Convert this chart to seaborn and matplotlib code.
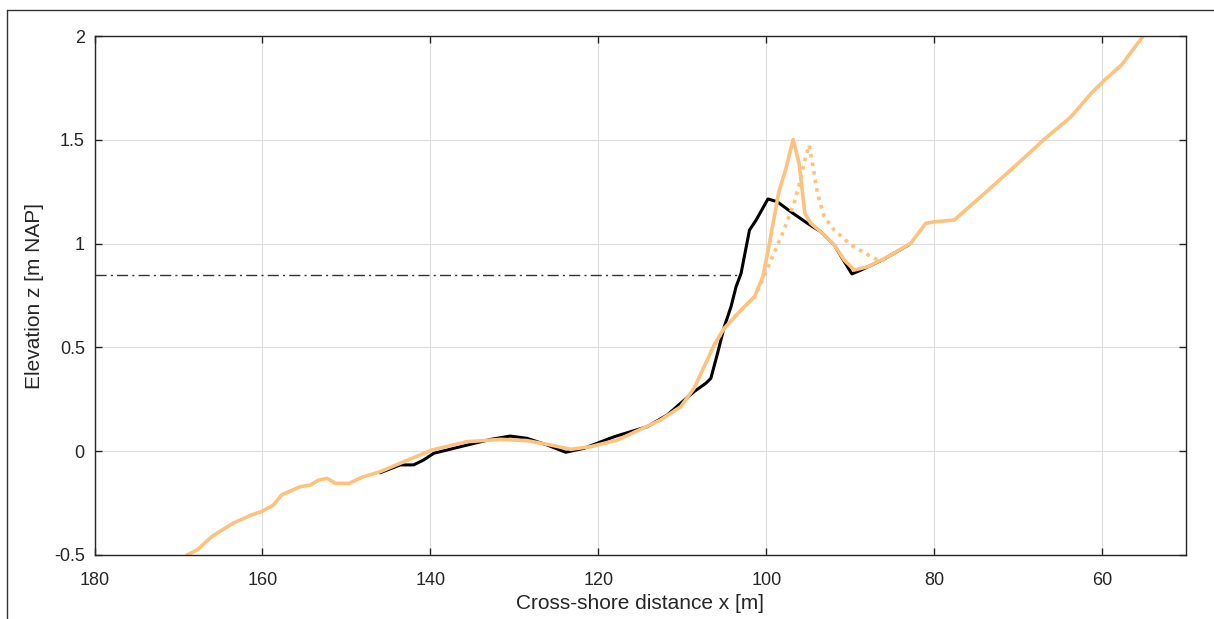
import matplotlib
matplotlib.use("Agg")
import matplotlib.pyplot as plt
from matplotlib.lines import Line2D
import seaborn as sns
import pandas as pd

# Measured profile (black)
measured_x = [146.0, 143.6, 142.0, 140.8, 139.6, 135.6, 132.8, 130.5, 128.5, 126.1,
              123.9, 121.7, 118.1, 114.2, 111.8, 110.2, 108.6, 107.2, 106.6, 105.8,
              105.0, 104.2, 103.6, 103.0, 102.0, 101.2, 99.8, 98.7, 97.1, 95.1,
              93.5, 91.9, 90.7, 89.8, 88.7, 86.0, 83.0]
measured_z = [-0.104, -0.066, -0.066, -0.042, -0.010, 0.030, 0.057, 0.073, 0.062, 0.030,
              -0.005, 0.014, 0.070, 0.118, 0.174, 0.231, 0.287, 0.327, 0.351, 0.472,
              0.600, 0.696, 0.792, 0.857, 1.065, 1.114, 1.215, 1.202, 1.154, 1.098,
              1.057, 0.993, 0.913, 0.854, 0.873, 0.925, 0.995]

# Modelled profile (solid orange)
model_x = [169.0, 167.8, 166.0, 163.5, 161.3, 160.1, 158.7, 157.7, 155.5, 154.3,
           153.3, 152.3, 151.3, 149.7, 148.0, 146.0, 143.6, 139.8, 135.6, 131.6,
           128.5, 125.7, 123.3, 120.9, 117.7, 112.6, 110.2, 108.6, 107.4, 106.2,
           105.0, 103.0, 101.4, 100.4, 99.7, 98.5, 97.7, 96.8, 96.1, 95.4,
           94.7, 93.5, 91.9, 90.7, 89.5, 87.9, 85.5, 82.8, 81.0, 80.0,
           77.6, 74.0, 70.0, 66.9, 63.7, 61.3, 59.7, 57.7, 55.1]
model_z = [-0.500, -0.476, -0.410, -0.347, -0.307, -0.291, -0.259, -0.210, -0.171, -0.163,
           -0.139, -0.131, -0.155, -0.155, -0.123, -0.099, -0.058, 0.006, 0.046, 0.057,
           0.051, 0.030, 0.009, 0.022, 0.054, 0.150, 0.214, 0.303, 0.407, 0.512,
           0.592, 0.680, 0.744, 0.841, 0.985, 1.250, 1.355, 1.502, 1.387, 1.146,
           1.098, 1.057, 0.993, 0.920, 0.873, 0.889, 0.937, 1.001, 1.098, 1.105,
           1.114, 1.242, 1.387, 1.502, 1.611, 1.724, 1.788, 1.860, 2.000]

# Alternative modelled profile (dotted orange), dune-foot section
alt_x = [106.2, 105.0, 103.0, 101.4, 100.4, 99.1, 97.9, 96.7, 96.1, 95.5,
         94.9, 94.5, 93.9, 93.1, 91.9, 89.9, 87.5, 86.3, 85.5]
alt_z = [0.512, 0.592, 0.680, 0.744, 0.830, 0.953, 1.065, 1.194, 1.282, 1.387,
         1.475, 1.387, 1.242, 1.130, 1.065, 0.993, 0.937, 0.913, 0.937]

# Still water level
swl_x = [180.0, 103.2]
swl_z = [0.85, 0.85]

x_ticks = [180, 160, 140, 120, 100, 80, 60]
y_ticks = [-0.5, 0, 0.5, 1, 1.5, 2]
y_tick_labels = ["-0.5", "0", "0.5", "1", "1.5", "2"]

sns.set_style("whitegrid")
plt.rcParams["font.family"] = ["Liberation Sans", "DejaVu Sans"]

orange = "#fec27f"
text_col = "#262626"

fig = plt.figure(figsize=(12.14, 6.19), dpi=100)
ax = fig.add_axes([0.0779, 0.1034, 0.8991, 0.8384])

sns.lineplot(x=swl_x, y=swl_z, ax=ax, color="#333333", linewidth=1.0,
             linestyle=(0, (8, 3, 1.5, 3)), sort=False, estimator=None)
sns.lineplot(data=pd.DataFrame({"x": measured_x, "z": measured_z}), x="x", y="z",
             ax=ax, color="black", linewidth=2.2, sort=False, estimator=None)
sns.lineplot(data=pd.DataFrame({"x": model_x, "z": model_z}), x="x", y="z",
             ax=ax, color=orange, linewidth=2.6, sort=False, estimator=None)
sns.lineplot(data=pd.DataFrame({"x": alt_x, "z": alt_z}), x="x", y="z",
             ax=ax, color=orange, linewidth=2.6, linestyle=(0, (1, 1.4)),
             sort=False, estimator=None)

ax.set_xlim(180, 50)
ax.set_ylim(-0.5, 2)
ax.set_xticks(x_ticks)
ax.set_xticklabels([str(t) for t in x_ticks])
ax.set_yticks(y_ticks)
ax.set_yticklabels(y_tick_labels)

ax.grid(True, color="#dcdcdc", linewidth=0.8)
for s in ax.spines.values():
    s.set_visible(True)
    s.set_color(text_col)
    s.set_linewidth(1.0)
ax.tick_params(axis="both", which="both", direction="in", length=5, width=1,
               colors=text_col, labelcolor=text_col, labelsize=13,
               top=True, right=True, bottom=True, left=True)
ax.tick_params(axis="x", pad=12)
ax.tick_params(axis="y", pad=7)

ax.set_xlabel("Cross-shore distance x [m]", fontsize=15, color=text_col, labelpad=4)
ax.set_ylabel("Elevation z [m NAP]", fontsize=15, color=text_col, labelpad=7)

# Figure frame (top and left edges)
fig.add_artist(Line2D([7 / 1214, 1.0], [1 - 9.5 / 619, 1 - 9.5 / 619],
                      transform=fig.transFigure, color="#333333", linewidth=1.0))
fig.add_artist(Line2D([7 / 1214, 7 / 1214], [0.0, 1 - 9.5 / 619],
                      transform=fig.transFigure, color="#333333", linewidth=1.0))

fig.savefig("out.png", dpi=100)
